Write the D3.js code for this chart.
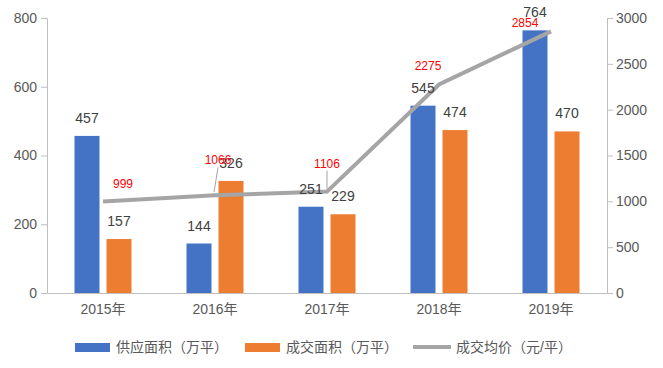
<!DOCTYPE html>
<meta charset="utf-8">
<script src="https://d3js.org/d3.v7.min.js"></script>
<style>
body { margin: 0; background: #fff; }
text { font-family: "Liberation Sans", "Noto Sans CJK SC", sans-serif; }
</style>
<body>
<script>

// chart data
var years = ["2015年", "2016年", "2017年", "2018年", "2019年"];
var supply = [457, 144, 251, 545, 764];     // 供应面积（万平）
var deal = [157, 326, 229, 474, 470];       // 成交面积（万平）
var price = [999, 1066, 1106, 2275, 2854];  // 成交均价（元/平）
var leftTicks = [0, 200, 400, 600, 800];
var rightTicks = [0, 500, 1000, 1500, 2000, 2500, 3000];

var width = 663, height = 368;
var margin = {top: 18, right: 56, bottom: 75, left: 47};

var svg = d3.select("body").append("svg")
    .attr("width", width)
    .attr("height", height);

var x = d3.scaleBand()
    .domain(years)
    .range([margin.left, width - margin.right]);

var y = d3.scaleLinear()
    .domain([0, 800])
    .range([height - margin.bottom, margin.top]);

var y2 = d3.scaleLinear()
    .domain([0, 3000])
    .range([height - margin.bottom, margin.top]);

var axisColor = "#bfbfbf", labelColor = "#595959";

// left axis
var yAxis = svg.append("g")
    .attr("transform", "translate(" + margin.left + ",0)")
    .call(d3.axisLeft(y).tickValues(leftTicks).tickFormat(d3.format("d"))
        .tickSize(6).tickPadding(4));

// right axis
var yAxis2 = svg.append("g")
    .attr("transform", "translate(" + (width - margin.right) + ",0)")
    .call(d3.axisRight(y2).tickValues(rightTicks).tickFormat(d3.format("d"))
        .tickSize(6).tickPadding(3));

[yAxis, yAxis2].forEach(function(g) {
    g.select(".domain").attr("stroke", axisColor);
    g.selectAll(".tick line").attr("stroke", axisColor);
    g.selectAll(".tick text")
        .attr("fill", labelColor)
        .style("font-size", "14px");
});

// x axis
var xAxis = svg.append("g")
    .attr("transform", "translate(0," + y(0) + ")")
    .call(d3.axisBottom(x).tickSize(0).tickPadding(11));
xAxis.select(".domain").attr("stroke", axisColor);
xAxis.selectAll(".tick text")
    .attr("fill", labelColor)
    .style("font-size", "14px");

var barW = 25, gap = 7;

function barX(i, k) {
    var c = x(years[i]) + x.bandwidth() / 2;
    return k == 0 ? c - gap / 2 - barW : c + gap / 2;
}

var series = [
    {values: supply, color: "#4472c4"},
    {values: deal, color: "#ed7d31"}
];

series.forEach(function(s, k) {
    svg.append("g")
        .selectAll("rect")
        .data(s.values)
        .enter()
        .append("rect")
        .attr("x", function(d, i) { return barX(i, k); })
        .attr("y", function(d) { return y(d); })
        .attr("width", barW)
        .attr("height", function(d) { return y(0) - y(d); })
        .attr("fill", s.color);
});

// price line
var line = d3.line()
    .x(function(d, i) { return x(years[i]) + x.bandwidth() / 2; })
    .y(function(d) { return y2(d); });

svg.append("path")
    .datum(price)
    .attr("d", line)
    .attr("fill", "none")
    .attr("stroke", "#a5a5a5")
    .attr("stroke-width", 4);

// bar labels
series.forEach(function(s, k) {
    svg.append("g")
        .selectAll("text")
        .data(s.values)
        .enter()
        .append("text")
        .attr("x", function(d, i) { return barX(i, k) + barW / 2; })
        .attr("y", function(d) { return y(d) - 13; })
        .attr("text-anchor", "middle")
        .attr("fill", "#404040")
        .style("font-size", "14px")
        .text(function(d) { return d; });
});

// price labels (offsets relative to the point, as placed in the original)
var priceOffsets = [[20, -13], [3, -31], [0, -24], [-11, -14], [-26, -4]];

svg.append("g")
    .selectAll("text")
    .data(price)
    .enter()
    .append("text")
    .attr("x", function(d, i) { return x(years[i]) + x.bandwidth() / 2 + priceOffsets[i][0]; })
    .attr("y", function(d, i) { return y2(d) + priceOffsets[i][1]; })
    .attr("text-anchor", "middle")
    .attr("fill", "#ff0000")
    .style("font-size", "12px")
    .text(function(d) { return d; });

// leader lines for 2016 / 2017
[1, 2].forEach(function(i) {
    var cx = x(years[i]) + x.bandwidth() / 2;
    svg.append("line")
        .attr("x1", cx + priceOffsets[i][0])
        .attr("y1", y2(price[i]) + priceOffsets[i][1] + 3)
        .attr("x2", i == 1 ? cx - 1 : cx)
        .attr("y2", y2(price[i]) - 3)
        .attr("stroke", "#a5a5a5")
        .attr("stroke-width", 1);
});

// legend
var legend = svg.append("g")
    .attr("transform", "translate(0,347)");

var legendItems = [
    {label: "供应面积（万平）", color: "#4472c4", type: "rect", x: 75},
    {label: "成交面积（万平）", color: "#ed7d31", type: "rect", x: 245},
    {label: "成交均价（元/平）", color: "#a5a5a5", type: "line", x: 413}
];

legendItems.forEach(function(d) {
    if (d.type == "rect") {
        legend.append("rect")
            .attr("x", d.x).attr("y", -4)
            .attr("width", 35).attr("height", 9)
            .attr("fill", d.color);
    } else {
        legend.append("line")
            .attr("x1", d.x).attr("x2", d.x + 38)
            .attr("y1", 0).attr("y2", 0)
            .attr("stroke", d.color).attr("stroke-width", 4);
    }
    legend.append("text")
        .attr("x", d.x + (d.type == "rect" ? 41 : 43))
        .attr("y", 5)
        .attr("fill", labelColor)
        .style("font-size", "14px")
        .text(d.label);
});

</script>
</body>
</html>
